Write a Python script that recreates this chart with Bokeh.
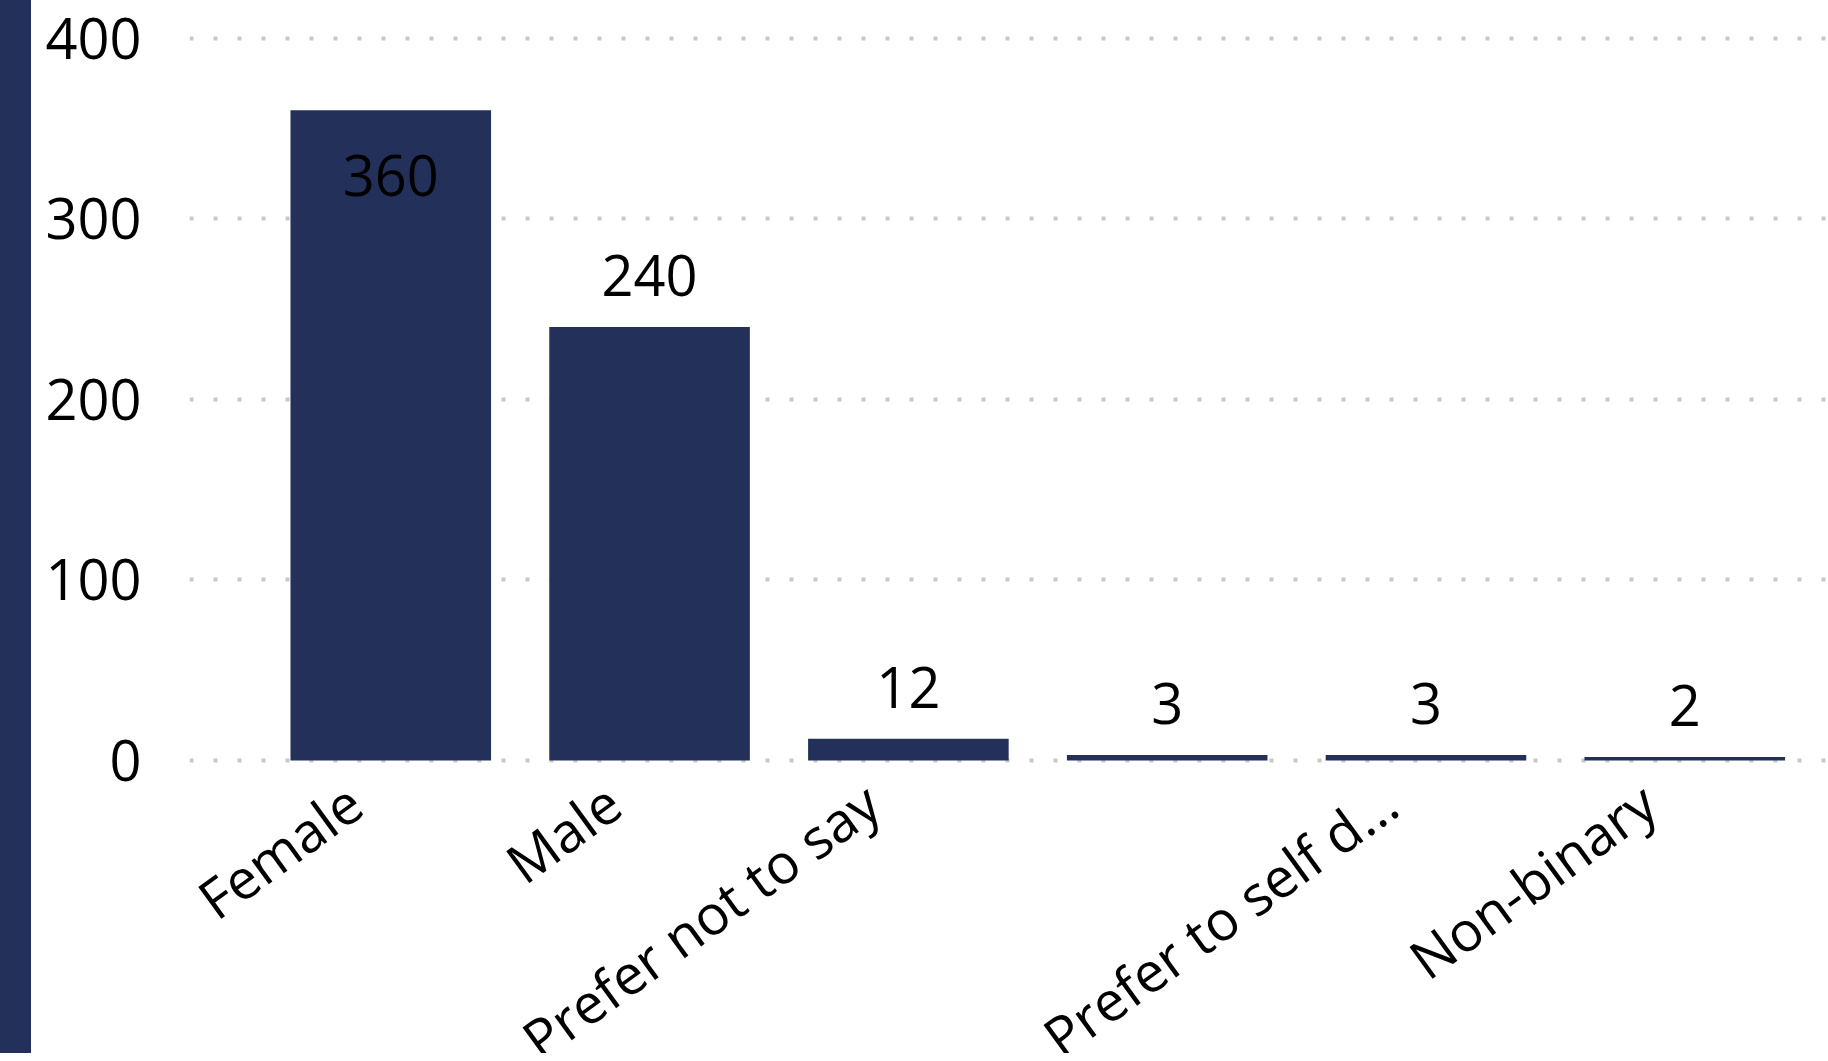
import math
from bokeh.plotting import figure
from bokeh.models import ColumnDataSource, LabelSet, FixedTicker, Range1d, Div
from bokeh.layouts import row
from bokeh.core.properties import value
from bokeh.embed import file_html
from bokeh.resources import INLINE

# categories as shown under the bars (the 4th bar's label is hidden in the reference)
categories = ["Female", "Male", "Prefer not to say", "", "Prefer to self d...", "Non-binary"]
values = [360, 240, 12, 3, 3, 2]
y_ticks = [0, 100, 200, 300, 400]

NAVY = "#22305A"
FONT = "Open Sans"
FS = "56px"

idx = list(range(len(values)))
label_offsets = [-86 if v > 350 else 31 for v in values]
src = ColumnDataSource(dict(x=idx, top=values, label=[str(v) for v in values], yoff=label_offsets))

p = figure(frame_width=1641, frame_height=748,
           x_range=Range1d(-0.7777, 5.563), y_range=Range1d(-2.77, 411.35),
           toolbar_location=None, output_backend="svg",
           min_border_left=153, min_border_right=0, min_border_top=25, min_border_bottom=0)
p.outline_line_color = None
p.background_fill_color = "white"
p.border_fill_color = "white"

p.vbar(x="x", top="top", width=0.775, bottom=0, source=src, fill_color=NAVY, line_color=None)

labels = LabelSet(x="x", y="top", text="label", y_offset="yoff", source=src,
                  text_align="center", text_baseline="alphabetic",
                  text_font=value(FONT), text_font_size=FS, text_color="black")
p.add_layout(labels)

# y axis
p.yaxis.ticker = FixedTicker(ticks=y_ticks)
p.yaxis.axis_line_color = None
p.yaxis.major_tick_line_color = None
p.yaxis.minor_tick_line_color = None
p.yaxis.major_label_standoff = 42
p.yaxis.major_label_text_font = FONT
p.yaxis.major_label_text_font_size = FS
p.yaxis.major_label_text_color = "black"

# x axis: rotated labels end slightly left of each bar centre
label_shift = 0.14
tick_pos = [i - label_shift for i in idx]
p.xaxis.ticker = FixedTicker(ticks=tick_pos)
p.xaxis.major_label_overrides = {t: c for t, c in zip(tick_pos, categories)}
p.xaxis.axis_line_color = None
p.xaxis.major_tick_line_color = None
p.xaxis.minor_tick_line_color = None
p.xaxis.major_label_orientation = math.radians(36)
p.xaxis.major_label_standoff = 24
p.xaxis.major_label_text_font = FONT
p.xaxis.major_label_text_font_size = "55px"
p.xaxis.major_label_text_color = "black"

p.xgrid.visible = False
p.ygrid.ticker = FixedTicker(ticks=y_ticks)
p.ygrid.grid_line_color = "#c8c8c8"
p.ygrid.grid_line_width = 4
p.ygrid.grid_line_dash = "4 20"

strip = Div(text="", width=34, height=1140, styles={"background-color": NAVY})

layout = row(strip, p, styles={"margin": "-8px -8px 0 -8px", "max-height": "1061px", "overflow": "hidden"})

open("out.html", "w").write(file_html(layout, INLINE))
